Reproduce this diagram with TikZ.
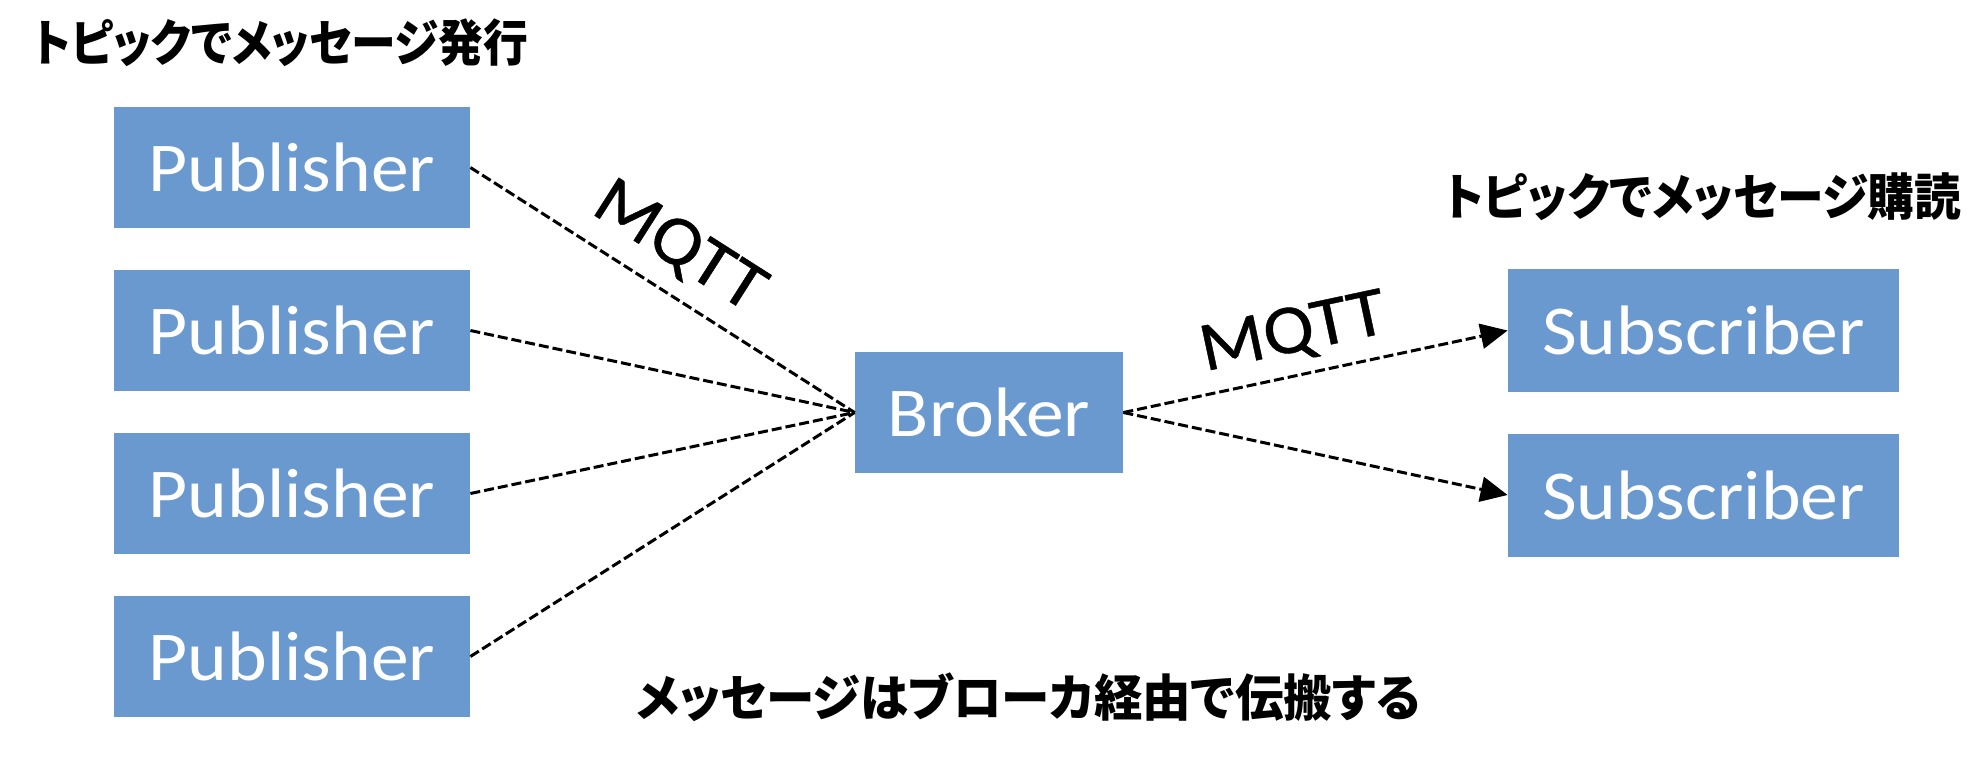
\documentclass[tikz,border=0pt]{standalone}
\usepackage{fontspec}
\usepackage{graphicx}
\usetikzlibrary{arrows.meta}
\newfontfamily\latfont[FakeStretch=1.08]{Carlito}
\newfontfamily\lblfont[FakeStretch=1.08,FakeBold=0.6]{Carlito}
\newfontfamily\jpfont[RawFeature=+palt]{Noto Sans CJK JP}
\definecolor{boxblue}{RGB}{106,153,208}
\tikzset{
  box/.style={fill=boxblue, draw=none, inner sep=0pt, minimum height=60.5pt,
    text=white, font=\latfont\fontsize{35}{40}\selectfont},
  pub/.style={box, minimum width=178pt},
  brk/.style={box, minimum width=134pt},
  subbox/.style={box, minimum width=195.5pt, minimum height=61.5pt},
  link/.style={draw=black, line width=1.5pt, dash pattern=on 5pt off 2pt},
  arr/.style={link, -{Triangle[length=13.5pt,width=12.5pt]}},
  lbl/.style={font=\lblfont\fontsize{35}{40}\selectfont, inner sep=0pt, sloped, text=black},
  jp/.style={font=\jpfont\bfseries\fontsize{25}{30}\selectfont, inner sep=0pt, text=black}
}
\begin{document}
\begin{tikzpicture}[x=0.5pt,y=-0.5pt]
\fill[white] (0,0) rectangle (1988,768);
\useasboundingbox (0,0) rectangle (1988,768);

\node[pub] (p1) at (292,167.5) {Publisher};
\node[pub] (p2) at (292,330.5) {Publisher};
\node[pub] (p3) at (292,493.5) {Publisher};
\node[pub] (p4) at (292,656.5) {Publisher};
\node[brk] (b) at (989,412.5) {Broker};
\node[subbox] (s1) at (1703.5,330.5) {Subscriber};
\node[subbox] (s2) at (1703.5,495) {Subscriber};

\node[jp, anchor=west] (t1) at (33,43) {\resizebox{247.5pt}{\height}{トピックでメッセージ発行}};
\node[jp, anchor=west] (t2) at (1444,197) {\resizebox{258.5pt}{\height}{トピックでメッセージ購読}};
\node[jp, anchor=west] (t3) at (636,697) {\resizebox{392pt}{\height}{メッセージはブローカ経由で伝搬する}};

\draw[link] (p1.east) -- node[lbl, pos=0.48, above=7.75pt] {MQTT} (b.west);
\draw[link] (p2.east) -- (b.west);
\draw[link] (p3.east) -- (b.west);
\draw[link] (p4.east) -- (b.west);
\draw[arr] (b.east) -- node[lbl, pos=0.465, above=6.25pt] {MQTT} (s1.west);
\draw[arr] (b.east) -- (s2.west);
\end{tikzpicture}
\end{document}
